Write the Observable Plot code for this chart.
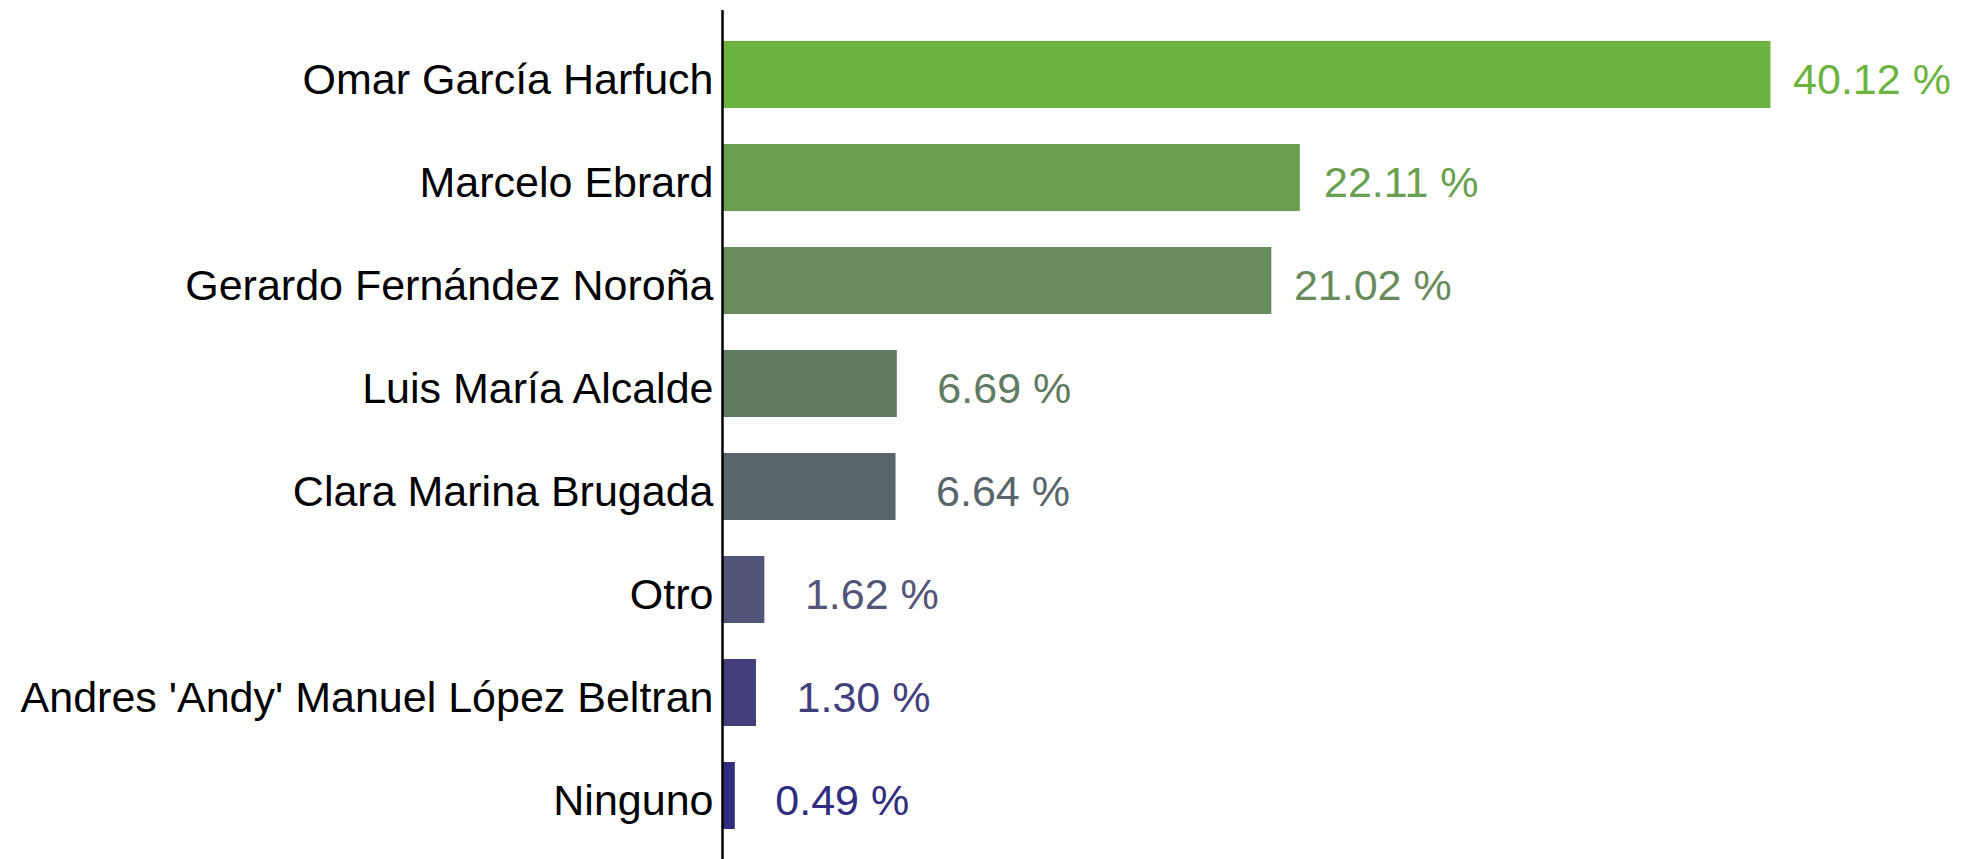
<!DOCTYPE html>
<html>
<head>
<meta charset="utf-8">
<script src="https://cdn.jsdelivr.net/npm/d3@7"></script>
<script src="https://cdn.jsdelivr.net/npm/@observablehq/plot@0.6"></script>
<style>
  html, body { margin: 0; padding: 0; background: #fff; }
  #chart svg { display: block; }
</style>
</head>
<body>
<div id="chart"></div>
<script>
const names = [
  "Omar García Harfuch",
  "Marcelo Ebrard",
  "Gerardo Fernández Noroña",
  "Luis María Alcalde",
  "Clara Marina Brugada",
  "Otro",
  "Andres 'Andy' Manuel López Beltran",
  "Ninguno"
];
const values = [40.12, 22.11, 21.02, 6.69, 6.64, 1.62, 1.30, 0.49];
const colors = ["#6DB33F", "#6A9F50", "#698A5B", "#617A62", "#58656B", "#525478", "#433F7D", "#302C80"];

const fmt = d3.format("\u00a0>5.2f");
const data = names.map((name, i) => ({
  name,
  value: values[i],
  color: colors[i],
  label: fmt(values[i]) + " %"
}));

const chart = Plot.plot({
  width: 1962,
  height: 859,
  marginLeft: 722,
  marginRight: 64,
  marginTop: 10,
  marginBottom: 0,
  style: { fontFamily: "'Liberation Sans', Arial, sans-serif", background: "#fff" },
  x: { domain: [0, 45], axis: null },
  y: { domain: names, paddingInner: 0.35, paddingOuter: 0.27, label: null },
  marks: [
    Plot.barX(data, { y: "name", x: "value", fill: "color" }),
    Plot.text(data, {
      y: "name", x: "value", text: "label", fill: "color",
      textAnchor: "middle", dx: 101, dy: 5, fontSize: 43
    }),
    Plot.axisY({ tickSize: 0, tickPadding: 9, fontSize: 43, dy: 5, label: null, color: "#000" }),
    Plot.ruleX([0], { stroke: "#000", strokeWidth: 2.5 })
  ]
});
document.getElementById("chart").appendChild(chart);
</script>
</body>
</html>
